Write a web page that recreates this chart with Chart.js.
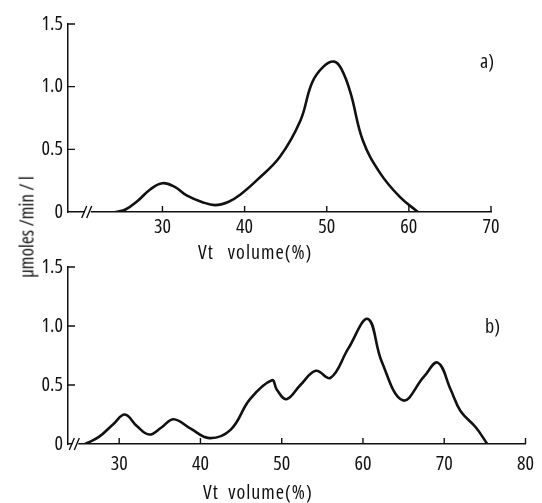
<!DOCTYPE html>
<html><head><meta charset="utf-8">
<script src="https://cdn.jsdelivr.net/npm/chart.js@4"></script>
<style>
html,body{margin:0;padding:0;background:#fff;}
#wrap{position:relative;width:542px;height:503px;overflow:hidden;font-family:"Open Sans",sans-serif;font-stretch:condensed;color:#111;}
canvas{position:absolute;left:0;}
.t{position:absolute;font-size:20px;white-space:nowrap;line-height:1;font-stretch:condensed;}
.ax{letter-spacing:1px;}
</style></head>
<body><div id="wrap">
<canvas id="ca" width="542" height="250" style="top:0;width:542px;height:250px"></canvas>
<canvas id="cb" width="542" height="253" style="top:250px;width:542px;height:253px"></canvas>
<div class="t ax" style="left:198px;top:242px;">Vt&nbsp;&nbsp;&nbsp;volume(%)</div>
<div class="t ax" style="left:203px;top:482px;">Vt&nbsp;&nbsp;volume(%)</div>
<div class="t" style="left:480px;top:51px;">a)</div>
<div class="t" style="left:485px;top:316px;">b)</div>
<div class="t" style="left:27px;top:227px;transform:translate(-50%,-50%) rotate(-90deg);font-size:19px;">µmoles /min / l</div>
</div>
<script>
// Panel a
const volumeA   = [24.3, 25.5, 27, 28.5, 30.0, 31.5, 33, 34.8, 36.4, 38, 39.5, 41.6, 44.3, 46.8, 48.2, 49.6, 50.9, 51.8, 52.9, 54.4, 56.5, 58.9, 61.1];
const activityA = [0, 0.02, 0.09, 0.18, 0.23, 0.2, 0.13, 0.08, 0.055, 0.08, 0.14, 0.26, 0.44, 0.73, 1.03, 1.16, 1.20, 1.14, 0.95, 0.57, 0.31, 0.12, 0];
// Panel b
const volumeB   = [25.8, 27.5, 29.3, 30.7, 32.2, 33.7, 35.2, 36.7, 38.8, 41.1, 43.7, 46.1, 48.8, 49.4, 50.6, 52.3, 54.2, 56.0, 58.2, 60.6, 62.3, 64.9, 67.5, 69.2, 70.8, 72.0, 73.9, 75.3];
const activityB = [0, 0.06, 0.17, 0.25, 0.15, 0.08, 0.14, 0.21, 0.13, 0.05, 0.12, 0.38, 0.54, 0.46, 0.38, 0.5, 0.62, 0.56, 0.81, 1.06, 0.70, 0.37, 0.57, 0.69, 0.46, 0.28, 0.14, 0];
const xTicksA = [30, 40, 50, 60, 70];
const xTicksB = [30, 40, 50, 60, 70, 80];
const yTicks  = [0, 0.5, 1.0, 1.5];

const FONT = {family: '"Open Sans",sans-serif', size: 20, weight: 'condensed'};
const INK = '#111';

const decor = {
  id: 'decor',
  afterDraw(chart, args, opts) {
    const ctx = chart.ctx, x = chart.scales.x, y = chart.scales.y, ca = chart.chartArea;
    ctx.save(); ctx.strokeStyle = INK; ctx.lineWidth = 1.4; ctx.beginPath();
    x.ticks.forEach(t => { const px = x.getPixelForValue(t.value); ctx.moveTo(px, ca.bottom); ctx.lineTo(px, ca.bottom - 6); });
    y.ticks.forEach(t => { if (t.value === 0) return; const py = y.getPixelForValue(t.value); ctx.moveTo(ca.left, py); ctx.lineTo(ca.left + 7, py); });
    ctx.stroke();
    const bx = x.getPixelForValue(opts.breakAt), by = ca.bottom;
    ctx.fillStyle = '#fff'; ctx.fillRect(bx - 3, by - 2, 6, 4);
    ctx.beginPath();
    ctx.moveTo(bx - 6, by + 6); ctx.lineTo(bx - 1, by - 6);
    ctx.moveTo(bx - 1, by + 6); ctx.lineTo(bx + 4, by - 6);
    ctx.stroke(); ctx.restore();
  }
};

function makeChart(id, vols, acts, xmin, xmax, xticks, padTop, padRight, xAxisH, labelPad, breakAt) {
  const pts = vols.map((v, i) => ({x: v, y: acts[i]}));
  return new Chart(document.getElementById(id), {
    type: 'line',
    data: {datasets: [{data: pts, borderColor: INK, borderWidth: 2.6, pointRadius: 0, tension: 0.4, fill: false}]},
    options: {
      responsive: false, animation: false, devicePixelRatio: 1,
      layout: {padding: {top: padTop, right: padRight, left: 0, bottom: 0}},
      plugins: {legend: {display: false}, tooltip: {enabled: false}, decor: {breakAt}},
      scales: {
        x: {type: 'linear', min: xmin, max: xmax,
            afterBuildTicks: s => { s.ticks = xticks.map(v => ({value: v})); },
            afterFit: s => { s.height = xAxisH; },
            grid: {display: false, drawTicks: false},
            border: {display: true, color: INK, width: 1.5},
            ticks: {color: INK, font: FONT, padding: labelPad, maxRotation: 0, autoSkip: false, callback: v => String(v)}},
        y: {type: 'linear', min: 0, max: 1.5,
            afterBuildTicks: s => { s.ticks = yTicks.map(v => ({value: v})); },
            afterFit: s => { s.width = 68; },
            grid: {display: false, drawTicks: false},
            border: {display: true, color: INK, width: 1.5},
            ticks: {color: INK, font: FONT, padding: 5, callback: v => v === 0 ? '0' : v.toFixed(1)}}
      }
    },
    plugins: [decor]
  });
}
makeChart('ca', volumeA, activityA, 18.5, 70, xTicksA, 24, 51, 38, 3, 20.9);
makeChart('cb', volumeB, activityB, 23.7, 80, xTicksB, 6, 9, 59, 8, 24.6);
</script>
</body></html>
